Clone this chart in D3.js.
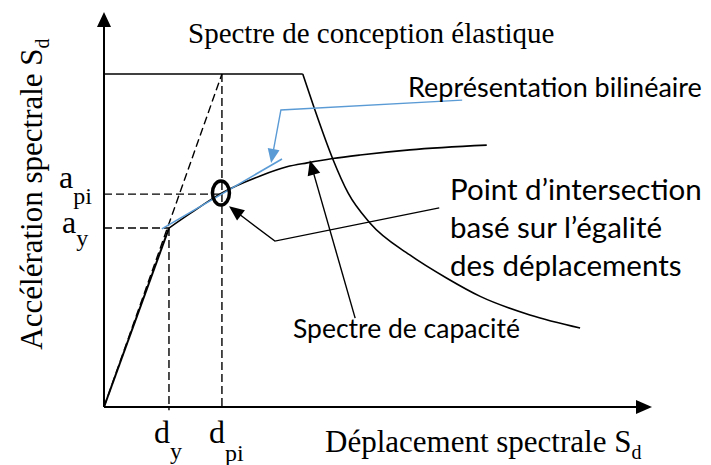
<!DOCTYPE html>
<html>
<head>
<meta charset="utf-8">
<script src="https://cdn.jsdelivr.net/npm/d3@7"></script>
<style>
  html, body { margin: 0; padding: 0; background: #fff; }
  svg { display: block; }
  .serif { font-family: "Liberation Serif", "Times New Roman", serif; fill: #000; }
  .sans { font-family: Lato, "Open Sans", sans-serif; fill: #000; }
</style>
</head>
<body>
<svg id="chart" width="711" height="465"></svg>
<script>
// Spectral displacement / acceleration in arbitrary units (0–100 on each axis)
const yieldSd = 11.9, yieldSa = 45.3;        // d_y, a_y
const perfSd = 21.6, perfSa = 53.9;          // d_pi, a_pi
const plateauSa = 84.3;                      // elastic spectrum plateau

// Elastic design spectrum: descending branch after the plateau
const demandSd = [36.4, 38.5, 41.9, 44.7, 48.7, 56.0, 62.8, 68.9, 78.0, 87.2];
const demandSa = [84.3, 75.7, 62.8, 54.2, 46.6, 38.5, 32.6, 28.0, 23.3, 20.0];

// Capacity spectrum: post-yield branch
const capSd = [11.9, 15.8, 21.6, 28.6, 33.5, 37.2, 41.9, 46.9, 56.0, 70.1];
const capSa = [45.3, 49.0, 54.2, 58.5, 60.8, 61.8, 62.9, 63.8, 65.1, 66.3];

// Bilinear representation segment
const biSd = [10.6, 32.6];
const biSa = [45.1, 62.8];

// Leader lines for the callouts (last point is the arrow tip)
const leaderBiSd = [65.6, 32.4, 30.6];
const leaderBiSa = [77.7, 75.2, 61.8];
const leaderPiSd = [61.4, 31.3, 22.9];
const leaderPiSa = [50.4, 42.0, 50.8];
const leaderCapSd = [46.0, 37.7];
const leaderCapSa = [22.5, 62.5];

const svg = d3.select("#chart");
const x = d3.scaleLinear().domain([0, 100]).range([104, 650]);
const y = d3.scaleLinear().domain([0, 100]).range([407, 12]);

const pts = (xs, ys) => xs.map((v, i) => [x(v), y(ys[i])]);
const line = d3.line();
const smooth = d3.line().curve(d3.curveMonotoneX);

function arrowHead(g, p0, p1, len, half, color) {
  const dx = p1[0] - p0[0], dy = p1[1] - p0[1];
  const n = Math.hypot(dx, dy), ux = dx / n, uy = dy / n;
  const bx = p1[0] - ux * len, by = p1[1] - uy * len;
  g.append("path")
    .attr("d", `M${p1[0]},${p1[1]}L${bx - uy * half},${by + ux * half}L${bx + uy * half},${by - ux * half}Z`)
    .attr("fill", color);
}

// Axes with arrows
const axes = svg.append("g");
axes.append("line").attr("x1", x(0)).attr("y1", y(0)).attr("x2", x(0)).attr("y2", y(100) + 10)
  .attr("stroke", "#000").attr("stroke-width", 2);
arrowHead(axes, [x(0), y(0)], [x(0), y(100)], 15, 7, "#000");
axes.append("line").attr("x1", x(0)).attr("y1", y(0)).attr("x2", x(100) - 10).attr("y2", y(0))
  .attr("stroke", "#000").attr("stroke-width", 2);
arrowHead(axes, [x(0), y(0)], [x(100) + 2, y(0)], 16, 7, "#000");

// Dashed guide lines
const dash = svg.append("g").attr("stroke", "#000").attr("stroke-width", 1.4)
  .attr("stroke-dasharray", "8,4").attr("fill", "none");
dash.append("path").attr("d", line(pts([0, perfSd], [0, plateauSa])));
dash.append("path").attr("d", line(pts([perfSd, perfSd], [plateauSa, 0])));
dash.append("path").attr("d", line(pts([yieldSd, yieldSd], [yieldSa, -0.8])));
dash.append("path").attr("d", line(pts([0, perfSd], [perfSa, perfSa])));
dash.append("path").attr("d", line(pts([0, yieldSd], [yieldSa, yieldSa])));

// Elastic design spectrum
const curves = svg.append("g").attr("stroke", "#000").attr("stroke-width", 1.6).attr("fill", "none");
curves.append("path").attr("d", line(pts([0, demandSd[0]], [plateauSa, plateauSa])));
curves.append("path").attr("d", smooth(pts(demandSd, demandSa)));

// Capacity spectrum
curves.append("path").attr("d", line(pts([0, yieldSd], [0, yieldSa]))).attr("stroke-width", 2);
curves.append("path").attr("d", smooth(pts(capSd, capSa)));

// Bilinear representation
svg.append("path").attr("d", line(pts(biSd, biSa)))
  .attr("stroke", "#5B9BD5").attr("stroke-width", 1.6).attr("fill", "none");

// Performance point marker
svg.append("ellipse")
  .attr("cx", x(perfSd) - 1).attr("cy", y(perfSa) - 1)
  .attr("rx", 8.5).attr("ry", 12)
  .attr("fill", "none").attr("stroke", "#000").attr("stroke-width", 3.5);

// Callout leaders
const lead = svg.append("g");
function leader(xs, ys, color, len, half) {
  const p = pts(xs, ys);
  const n = p.length;
  const ux = p[n - 1][0] - p[n - 2][0], uy = p[n - 1][1] - p[n - 2][1];
  const d = Math.hypot(ux, uy);
  const trimmed = p.slice(0, n - 1).concat([[p[n - 1][0] - ux / d * (len - 2), p[n - 1][1] - uy / d * (len - 2)]]);
  lead.append("path").attr("d", line(trimmed))
    .attr("stroke", color).attr("stroke-width", 1.4).attr("fill", "none");
  arrowHead(lead, p[n - 2], p[n - 1], len, half, color);
}
leader(leaderBiSd, leaderBiSa, "#5B9BD5", 14, 6);
leader(leaderPiSd, leaderPiSa, "#000", 15, 6.5);
leader(leaderCapSd, leaderCapSa, "#000", 15, 6.5);

// Texts
svg.append("text").attr("class", "serif").attr("x", 188).attr("y", 43)
  .attr("font-size", 29).text("Spectre de conception élastique");

svg.append("text").attr("class", "sans").attr("x", 408).attr("y", 97)
  .attr("font-size", 27).text("Représentation bilinéaire");

const pi = svg.append("text").attr("class", "sans").attr("font-size", 29.5);
["Point d’intersection", "basé sur l’égalité", "des déplacements"].forEach((s, i) =>
  pi.append("tspan").attr("x", 450).attr("y", 200 + i * 38).text(s));

svg.append("text").attr("class", "sans").attr("x", 293).attr("y", 338)
  .attr("font-size", 26.5).text("Spectre de capacité");

// Axis titles
const xt = svg.append("text").attr("class", "serif").attr("x", 325).attr("y", 452).attr("font-size", 31);
xt.append("tspan").text("Déplacement spectrale S");
xt.append("tspan").attr("font-size", 20).attr("dy", 7).text("d");

const yt = svg.append("text").attr("class", "serif").attr("font-size", 31)
  .attr("text-anchor", "middle").attr("transform", "translate(42,194) rotate(-90)");
yt.append("tspan").text("Accélération spectrale S");
yt.append("tspan").attr("font-size", 20).attr("dy", 7).text("d");

// Point labels on the axes
function subLabel(px, py, main, sub, shift) {
  const t = svg.append("text").attr("class", "serif").attr("x", px).attr("y", py).attr("font-size", 32);
  t.append("tspan").text(main);
  t.append("tspan").attr("font-size", 24).attr("dy", shift).text(sub);
}
subLabel(59, y(perfSa) - 6, "a", "pi", 16);
subLabel(62, y(yieldSa) + 5, "a", "y", 13);
subLabel(x(yieldSd) - 15, 443, "d", "y", 16);
subLabel(x(perfSd) - 13, 443, "d", "pi", 18);
</script>
</body>
</html>
